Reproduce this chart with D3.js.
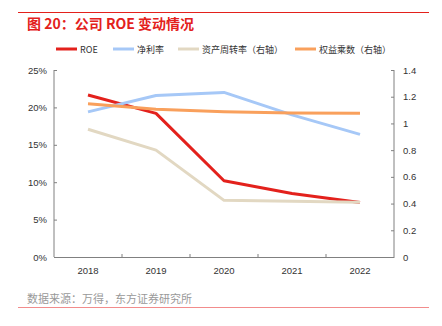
<!DOCTYPE html>
<html>
<head>
<meta charset="utf-8">
<script src="https://cdn.jsdelivr.net/npm/d3@7"></script>
<style>
  body { margin: 0; background: #fff; }
  svg { display: block; font-family: "Noto Sans CJK SC", "Liberation Sans", Arial, sans-serif; }
</style>
</head>
<body>
<svg id="chart" width="442" height="326"></svg>
<script>
// Company ROE decomposition, 2018-2022
const years = ["2018", "2019", "2020", "2021", "2022"];
const roe = [0.2166, 0.192, 0.102, 0.085, 0.073];
const netMargin = [0.194, 0.216, 0.220, 0.190, 0.164];
const assetTurnover = [0.956, 0.80, 0.424, 0.417, 0.41];
const equityMultiplier = [1.148, 1.106, 1.088, 1.078, 1.076];
const leftTicks = [0, 0.05, 0.10, 0.15, 0.20, 0.25];
const rightTicks = [0, 0.2, 0.4, 0.6, 0.8, 1, 1.2, 1.4];

const series = [
  { name: "ROE", values: roe, axis: "left", color: "#e3211c" },
  { name: "净利率", values: netMargin, axis: "left", color: "#a6c8f7" },
  { name: "资产周转率（右轴）", values: assetTurnover, axis: "right", color: "#e2d8c2" },
  { name: "权益乘数（右轴）", values: equityMultiplier, axis: "right", color: "#f9a05c" }
];

const svg = d3.select("#chart");
const plot = { left: 54, right: 394, top: 70, bottom: 257 };

// header rule and title
svg.append("line").attr("x1", 18).attr("x2", 429).attr("y1", 12.5).attr("y2", 12.5)
  .attr("stroke", "#e3211c").attr("stroke-width", 1);
svg.append("text").attr("x", 27).attr("y", 29)
  .attr("fill", "#e3211c").attr("font-size", 14).attr("font-weight", "bold")
  .text("图 20：公司 ROE 变动情况");

// scales
const x = d3.scaleBand().domain(years).range([plot.left, plot.right]);
const yL = d3.scaleLinear().domain([0, 0.25]).range([plot.bottom, plot.top]);
const yR = d3.scaleLinear().domain([0, 1.4]).range([plot.bottom, plot.top]);

// axes
const axisColor = "#808080";
const gL = svg.append("g").attr("transform", `translate(${plot.left},0)`)
  .call(d3.axisRight(yL).tickValues(leftTicks).tickSize(3).tickFormat(d3.format(".0%")));
gL.selectAll("text").attr("x", -7).attr("text-anchor", "end");
const gR = svg.append("g").attr("transform", `translate(${plot.right},0)`)
  .call(d3.axisLeft(yR).tickValues(rightTicks).tickSize(3).tickFormat(d => d3.format("")(+d.toFixed(1))));
gR.selectAll("text").attr("x", 9).attr("text-anchor", "start");
const gX = svg.append("g").attr("transform", `translate(0,${plot.bottom})`)
  .call(d3.axisBottom(x).tickSize(0).tickPadding(10));
// tick marks on band boundaries, pointing up
gX.selectAll(".bound").data(years.slice(1)).enter().append("line")
  .attr("x1", d => x(d)).attr("x2", d => x(d)).attr("y1", 0).attr("y2", -3)
  .attr("stroke", axisColor);

[gL, gR, gX].forEach(g => {
  g.select(".domain").attr("stroke", axisColor);
  g.selectAll(".tick line").attr("stroke", axisColor);
  g.selectAll("text").attr("fill", "#333").attr("font-size", 9.5)
    .attr("font-family", "Liberation Sans, Arial, sans-serif");
});
gL.select(".domain").attr("d", `M0,${plot.top}V${plot.bottom}`);
gR.select(".domain").attr("d", `M0,${plot.top}V${plot.bottom}`);

// lines
series.forEach(s => {
  const ys = s.axis === "left" ? yL : yR;
  const line = d3.line().x((d, i) => x(years[i]) + x.bandwidth() / 2).y(d => ys(d));
  svg.append("path").datum(s.values).attr("d", line)
    .attr("fill", "none").attr("stroke", s.color).attr("stroke-width", 3)
    .attr("stroke-linejoin", "round");
});

// legend
const legendX = [56, 113, 178, 295];
series.forEach((s, i) => {
  const g = svg.append("g").attr("transform", `translate(${legendX[i]},49)`);
  g.append("line").attr("x1", 0).attr("x2", 21).attr("stroke", s.color).attr("stroke-width", 3);
  g.append("text").attr("x", 24).attr("y", 3.5).attr("font-size", 9).attr("fill", "#333").text(s.name);
});

// source note and footer rule
svg.append("text").attr("x", 27).attr("y", 303).attr("font-size", 11).attr("fill", "#999")
  .text("数据来源：万得，东方证券研究所");
svg.append("line").attr("x1", 18).attr("x2", 429).attr("y1", 307.5).attr("y2", 307.5)
  .attr("stroke", "#f28c8c").attr("stroke-width", 1);
</script>
</body>
</html>
